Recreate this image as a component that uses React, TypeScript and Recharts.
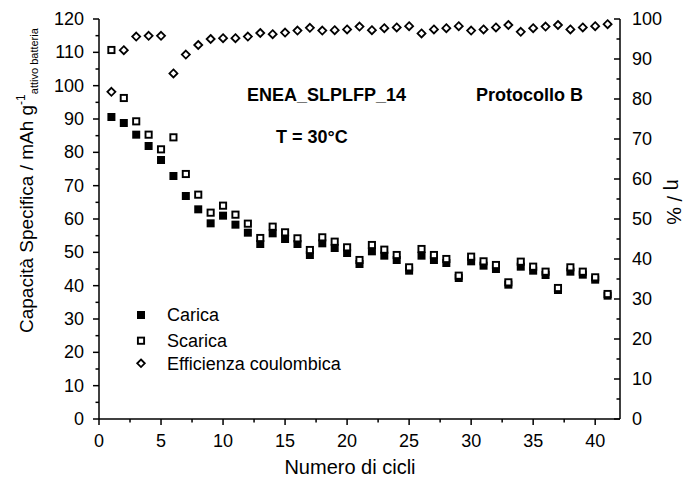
import { ScatterChart, Scatter, XAxis, YAxis, Customized } from "recharts";

const cycles = [1, 2, 3, 4, 5, 6, 7, 8, 9, 10, 11, 12, 13, 14, 15, 16, 17, 18, 19, 20, 21, 22, 23, 24, 25, 26, 27, 28, 29, 30, 31, 32, 33, 34, 35, 36, 37, 38, 39, 40, 41];

// capacità specifica, mAh/g
const carica = [90.6, 88.8, 85.3, 81.9, 77.7, 72.9, 66.9, 62.9, 58.7, 61.0, 58.3, 55.9, 52.5, 55.7, 54.0, 52.5, 49.2, 52.7, 51.3, 49.8, 46.5, 50.3, 49.0, 47.7, 44.5, 49.0, 47.7, 46.8, 42.3, 47.3, 46.0, 45.0, 40.3, 45.7, 44.5, 43.2, 38.7, 44.2, 43.3, 41.8, 37.0];
const scarica = [110.7, 96.3, 89.3, 85.3, 80.9, 84.5, 73.5, 67.3, 61.9, 64.0, 61.3, 58.6, 54.3, 57.7, 56.0, 54.2, 50.7, 54.5, 53.2, 51.5, 47.7, 52.2, 50.8, 49.2, 45.5, 51.0, 49.2, 48.0, 43.0, 48.7, 47.3, 46.2, 41.0, 47.2, 45.7, 44.2, 39.3, 45.5, 44.2, 42.5, 37.5];

// efficienza coulombica, %
const efficienza = [81.8, 92.2, 95.6, 95.8, 95.8, 86.4, 91.1, 93.5, 95.0, 95.2, 95.2, 95.6, 96.5, 96.2, 96.6, 97.1, 97.8, 97.1, 97.2, 97.4, 98.1, 97.2, 97.7, 97.9, 98.2, 96.4, 97.4, 97.7, 98.2, 97.1, 97.4, 97.9, 98.5, 96.8, 97.7, 98.1, 98.5, 97.4, 97.9, 98.2, 98.7];

const xTicks = [0, 2.5, 5, 7.5, 10, 12.5, 15, 17.5, 20, 22.5, 25, 27.5, 30, 32.5, 35, 37.5, 40];
const leftTicks = [0, 5, 10, 15, 20, 25, 30, 35, 40, 45, 50, 55, 60, 65, 70, 75, 80, 85, 90, 95, 100, 105, 110, 115, 120];
const rightTicks = [0, 5, 10, 15, 20, 25, 30, 35, 40, 45, 50, 55, 60, 65, 70, 75, 80, 85, 90, 95, 100];

const FONT = '"Liberation Sans", Arial, sans-serif';

const caricaData = cycles.map((c, i) => ({ x: c, y: carica[i] }));
const scaricaData = cycles.map((c, i) => ({ x: c, y: scarica[i] }));
const effData = cycles.map((c, i) => ({ x: c, y: efficienza[i] }));

const FilledSquare = ({ cx, cy }: any) => <rect x={cx - 4} y={cy - 4} width={8} height={8} fill="#000" />;
const OpenSquare = ({ cx, cy }: any) => (
  <rect x={cx - 3.1} y={cy - 3.1} width={6.2} height={6.2} fill="#fff" stroke="#000" strokeWidth={1.9} />
);
const Diamond = ({ cx, cy }: any) => (
  <path d={`M${cx},${cy - 4}L${cx + 4},${cy}L${cx},${cy + 4}L${cx - 4},${cy}Z`} fill="none" stroke="#000" strokeWidth={1.8} />
);

function BottomTick({ x, y, payload }: any) {
  const major = payload.value % 5 === 0;
  return (
    <g>
      <line x1={x} x2={x} y1={y} y2={y + (major ? 6 : 3.5)} stroke="#000" strokeWidth={1.5} />
      {major && (
        <text x={x} y={y + 28} textAnchor="middle" fontSize={18} fontFamily={FONT} fill="#000">
          {payload.value}
        </text>
      )}
    </g>
  );
}

function TopTick({ x, y }: any) {
  return <line x1={x} x2={x} y1={y} y2={y + 5} stroke="#000" strokeWidth={1.5} />;
}

function LeftTick({ x, y, payload }: any) {
  const major = payload.value % 10 === 0;
  return (
    <g>
      <line x1={x} x2={x - (major ? 6 : 3.5)} y1={y} y2={y} stroke="#000" strokeWidth={1.5} />
      {major && (
        <text x={x - 15} y={y + 6} textAnchor="end" fontSize={18} fontFamily={FONT} fill="#000">
          {payload.value}
        </text>
      )}
    </g>
  );
}

function RightTick({ x, y, payload }: any) {
  const major = payload.value % 10 === 0;
  return (
    <g>
      <line x1={x} x2={x - (major ? 6 : 3.5)} y1={y} y2={y} stroke="#000" strokeWidth={1.5} />
      {major && (
        <text x={x + 12} y={y + 6} textAnchor="start" fontSize={18} fontFamily={FONT} fill="#000">
          {payload.value}
        </text>
      )}
    </g>
  );
}

function Annotations() {
  return (
    <g fontFamily={FONT} fill="#000">
      <text x={247} y={101} fontSize={18} fontWeight="bold">ENEA_SLPLFP_14</text>
      <text x={476} y={101} fontSize={18} fontWeight="bold">Protocollo B</text>
      <text x={276} y={143} fontSize={18} fontWeight="bold">T = 30°C</text>

      {/* legenda */}
      <rect x={137} y={311} width={8} height={8} fill="#000" />
      <text x={167} y={321} fontSize={18}>Carica</text>
      <rect x={137.9} y={337.6} width={6.2} height={6.2} fill="#fff" stroke="#000" strokeWidth={1.9} />
      <text x={167} y={347} fontSize={18}>Scarica</text>
      <path d="M141,359.5L144.8,363.3L141,367.1L137.2,363.3Z" fill="none" stroke="#000" strokeWidth={1.8} />
      <text x={167} y={369.5} fontSize={18}>Efficienza coulombica</text>

      {/* titoli assi */}
      <text x={350} y={474} fontSize={20} textAnchor="middle">Numero di cicli</text>
      <text transform="translate(33,333) rotate(-90)" fontSize={19}>
        Capacità Specifica / mAh g
        <tspan fontSize={12} dy={-8}>-1</tspan>
        <tspan fontSize={11} dy={13}>attivo batteria</tspan>
      </text>
      <text transform="translate(667,202) rotate(90)" fontSize={20} textAnchor="middle">η / %</text>
    </g>
  );
}

export default function App() {
  return (
    <div style={{ position: "fixed", left: 0, top: 0, background: "#fff" }}>
      <ScatterChart width={684} height={484} margin={{ top: 19, right: 0, bottom: 0, left: 0 }}>
        <XAxis
          xAxisId="bottom"
          type="number"
          dataKey="x"
          domain={[0, 42]}
          ticks={xTicks}
          interval={0}
          height={65}
          tickSize={0}
          tickMargin={0}
          tickLine={false}
          tick={<BottomTick />}
          axisLine={{ stroke: "#000", strokeWidth: 1.5 }}
        />
        <XAxis
          xAxisId="top"
          orientation="top"
          type="number"
          dataKey="x"
          domain={[0, 42]}
          ticks={xTicks}
          interval={0}
          height={0}
          tickSize={0}
          tickMargin={0}
          tickLine={false}
          tick={<TopTick />}
          axisLine={{ stroke: "#000", strokeWidth: 1.5 }}
        />
        <YAxis
          yAxisId="left"
          type="number"
          dataKey="y"
          domain={[0, 120]}
          ticks={leftTicks}
          interval={0}
          width={99}
          tickSize={0}
          tickMargin={0}
          tickLine={false}
          tick={<LeftTick />}
          axisLine={{ stroke: "#000", strokeWidth: 1.5 }}
        />
        <YAxis
          yAxisId="right"
          orientation="right"
          type="number"
          dataKey="y"
          domain={[0, 100]}
          ticks={rightTicks}
          interval={0}
          width={64}
          tickSize={0}
          tickMargin={0}
          tickLine={false}
          tick={<RightTick />}
          axisLine={{ stroke: "#000", strokeWidth: 1.5 }}
        />
        <Scatter name="Carica" data={caricaData} xAxisId="bottom" yAxisId="left" shape={FilledSquare} isAnimationActive={false} />
        <Scatter name="Scarica" data={scaricaData} xAxisId="bottom" yAxisId="left" shape={OpenSquare} isAnimationActive={false} />
        <Scatter name="Efficienza coulombica" data={effData} xAxisId="bottom" yAxisId="right" shape={Diamond} isAnimationActive={false} />
        <Customized component={Annotations} />
      </ScatterChart>
    </div>
  );
}
